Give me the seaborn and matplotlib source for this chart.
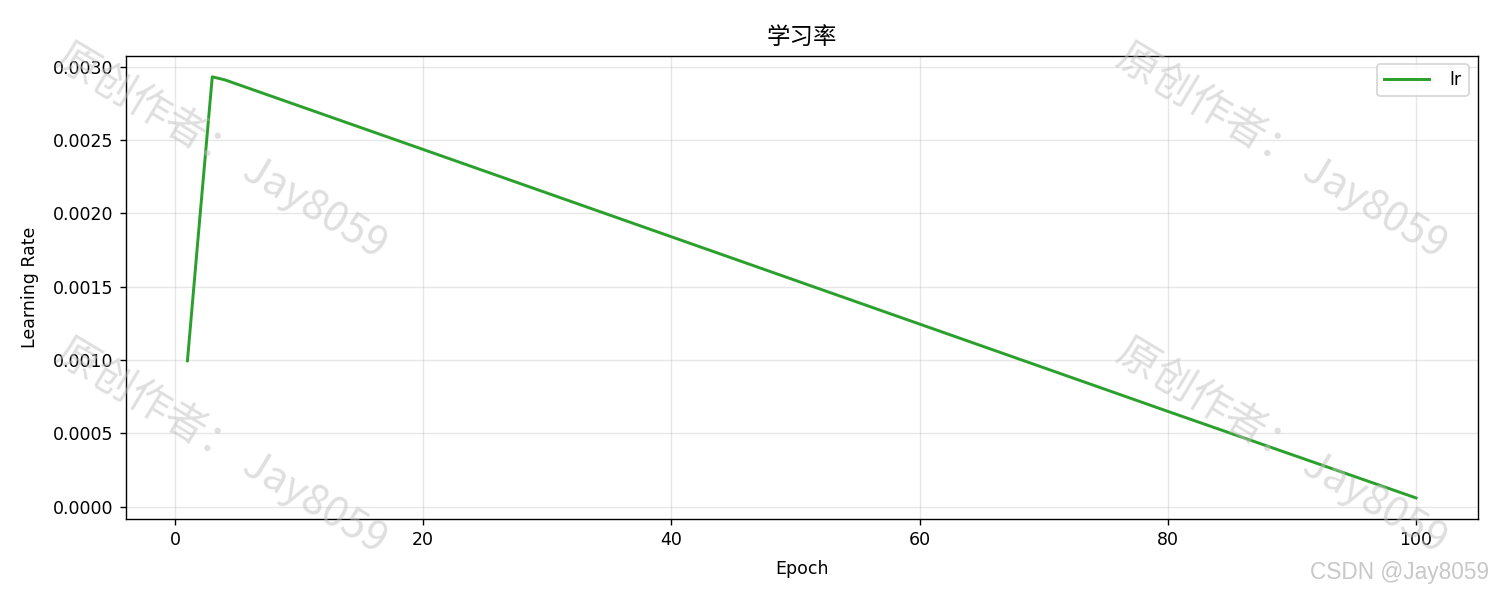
import numpy as np
import pandas as pd
import matplotlib
matplotlib.use("Agg")
import matplotlib.pyplot as plt
import seaborn as sns

# ===============================
# DATA
# ===============================
epochs = [1, 2, 3, 4, 20, 40, 60, 80, 100]
lr_values = [0.000995, 0.00197, 0.00293, 0.00291, 0.002435, 0.001840,
             0.001245, 0.000650, 0.000060]
watermark = "原创作者： Jay8059"
credit = "CSDN @Jay8059"

df = pd.DataFrame({"Epoch": epochs, "lr": lr_values})

plt.rcParams["font.family"] = ["DejaVu Sans", "Noto Sans CJK SC"]
plt.rcParams["axes.unicode_minus"] = False

# ===============================
# PLOT
# ===============================
fig = plt.figure(figsize=(12, 4.8), dpi=125)
ax = fig.add_axes([0.084, 0.135, 0.901, 0.772])

sns.lineplot(data=df, x="Epoch", y="lr", ax=ax, color="#2ca02c",
             linewidth=1.7, label="lr")

ax.set_title("学习率", fontsize=13.5, pad=7,
             family=["Noto Sans CJK SC", "DejaVu Sans"])
ax.set_xlabel("Epoch", fontsize=10, labelpad=6)
ax.set_ylabel("Learning Rate", fontsize=10, labelpad=8)
ax.tick_params(labelsize=10)
ax.yaxis.set_major_formatter(matplotlib.ticker.FormatStrFormatter("%.4f"))
ax.grid(True, alpha=0.3)
ax.legend(loc="upper right", fontsize=10, handlelength=2.6,
          handletextpad=1.2)

# watermarks
for x, y in [(0.148, 0.75), (0.148, 0.258), (0.855, 0.75), (0.855, 0.258)]:
    fig.text(x, y, watermark, fontsize=24, color="#c0c0c0", alpha=0.5,
             rotation=-31, ha="center", va="center", rotation_mode="anchor",
             family=["Noto Sans CJK SC", "DejaVu Sans"], fontweight="light",
             zorder=10)

fig.text(0.993, 0.045, credit, fontsize=13, color="#c8c8c8",
         ha="right", va="center", family=["Liberation Sans", "DejaVu Sans"])

plt.savefig("out.png", dpi=125)
